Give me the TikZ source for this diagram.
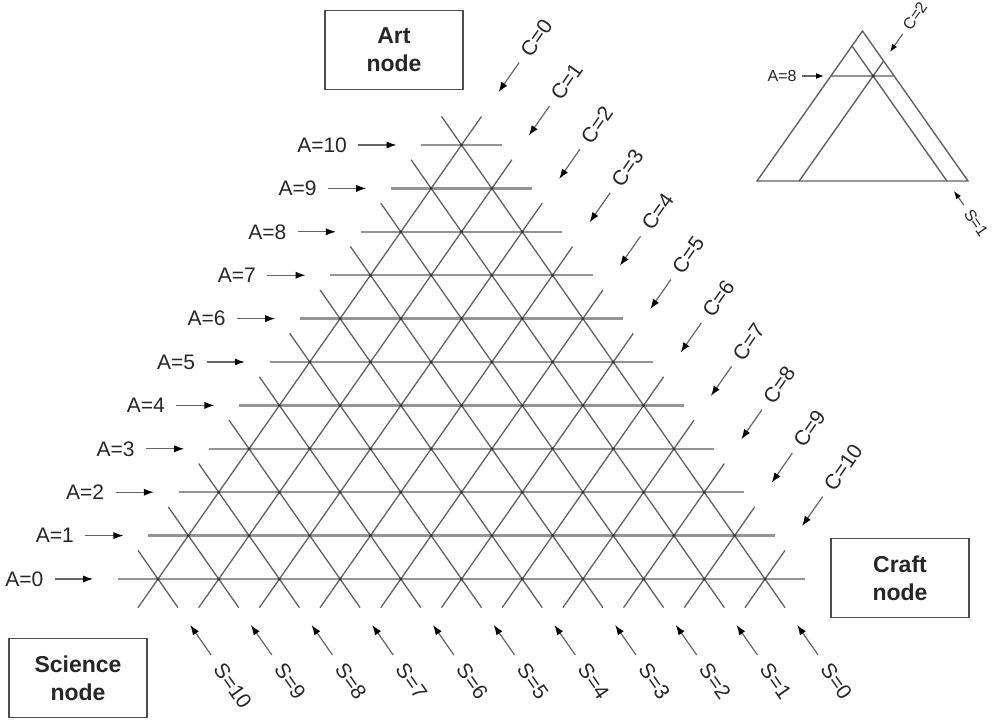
\documentclass[tikz,border=0pt]{standalone}
\usepackage{fontspec}
\setmainfont{Liberation Sans}
\usetikzlibrary{positioning, arrows.meta}

\begin{document}
\begin{tikzpicture}[
    x=0.5pt, y=-0.5pt,
    corner/.style={rectangle, draw=black!70, line width=0.7pt, minimum width=69pt,
    minimum height=39.5pt, align=center, text=black!85,
    font=\fontsize{11.5}{14}\selectfont\bfseries},
    rowline/.style={draw=black!42, line width=1.15pt},
    diagline/.style={draw=black!62, line width=0.65pt},
    crossing/.style={fill=black!80},
    pointer/.style={-{Latex[length=5pt, width=3.6pt, color=black]}, draw=black!60, line width=0.6pt},
    lab/.style={font=\fontsize{10.5}{12}\selectfont, text=black!85, inner sep=1pt},
    smalllab/.style={font=\fontsize{8}{9}\selectfont, text=black!85, inner sep=1pt},
]
\useasboundingbox (0,0) rectangle (997,719);

\node[corner] (art) at (394,50) {Art\\node};
\node[corner] (craft) at (900,578) {Craft\\node};
\node[corner] (science) at (78,678) {Science\\node};

\begin{scope}[shift={(158,579)}, x={(30.35pt,0pt)}, y={(15.175pt,21.7pt)}]
  \def\ext{0.66}
  % lattice
  \foreach \a in {0,...,10} {
    \draw[rowline] (-\ext,\a) -- (10-\a+\ext,\a);
  }
  \foreach \k in {0,...,10} {
    \draw[diagline] (\k,-\ext) -- (\k,10-\k+\ext);
    \draw[diagline] (\k+\ext,-\ext) -- (-\ext,\k+\ext);
  }
  \foreach \a in {0,...,10} {
    \foreach \i in {0,...,\numexpr10-\a\relax} {
      \fill[crossing] (\i,\a) circle[radius=0.8pt];
    }
  }
  % A labels
  \foreach \a in {0,...,10} {
    \coordinate (aT\a) at (-\ext-1.04,\a);
    \coordinate (aH\a) at (-\ext-0.41,\a);
    \draw[pointer] (aT\a) -- (aH\a);
    \node[lab, left=4.5pt of aT\a] (alab\a) {A=\a};
  }
  % C labels
  \foreach \k in {0,...,10} {
    \coordinate (cT\k) at (\k,10-\k+1.9);
    \coordinate (cH\k) at (\k,10-\k+1.22);
    \draw[pointer] (cT\k) -- (cH\k);
    \node[lab, anchor=west, rotate=55] (clab\k) at (\k,10-\k+2.05) {C=\k};
  }
  % S labels
  \foreach \s in {0,...,10} {
    \coordinate (sT\s) at (10-\s+1.75,-1.75);
    \coordinate (sH\s) at (10-\s+1.06,-1.06);
    \draw[pointer] (sT\s) -- (sH\s);
    \node[lab, anchor=west, rotate=-55] (slab\s) at (10-\s+1.95,-1.95) {S=\s};
  }
\end{scope}

% small example triangle
\coordinate (tl) at (757,181);
\coordinate (tr) at (968,181);
\coordinate (tt) at (862.5,31);
\draw[rowline] (830.85,76) -- (894.15,76);
\draw[diagline, line width=0.7pt] (tl) -- (tt) -- (tr) -- cycle;
\draw[diagline, line width=0.7pt] (799.2,181) -- (883.6,61);
\draw[diagline, line width=0.7pt] (946.9,181) -- (852,46);
\fill[crossing] (873.05,76) circle[radius=0.9pt];

\coordinate (iaT) at (802,76);
\coordinate (iaH) at (824,76);
\draw[pointer, -{Latex[length=4pt, width=3pt, color=black]}] (iaT) -- (iaH);
\node[smalllab, left=1.5pt of iaT] (ialab) {A=8};
\coordinate (icT) at (902.6,34);
\coordinate (icH) at (890,52);
\draw[pointer, -{Latex[length=4pt, width=3pt, color=black]}] (icT) -- (icH);
\node[smalllab, anchor=west, rotate=55] (iclab) at (905,30) {C=2};
\coordinate (isT) at (963.8,205);
\coordinate (isH) at (953.9,191);
\draw[pointer, -{Latex[length=4pt, width=3pt, color=black]}] (isT) -- (isH);
\node[smalllab, anchor=west, rotate=-55] (islab) at (966.5,209) {S=1};

\end{tikzpicture}
\end{document}
